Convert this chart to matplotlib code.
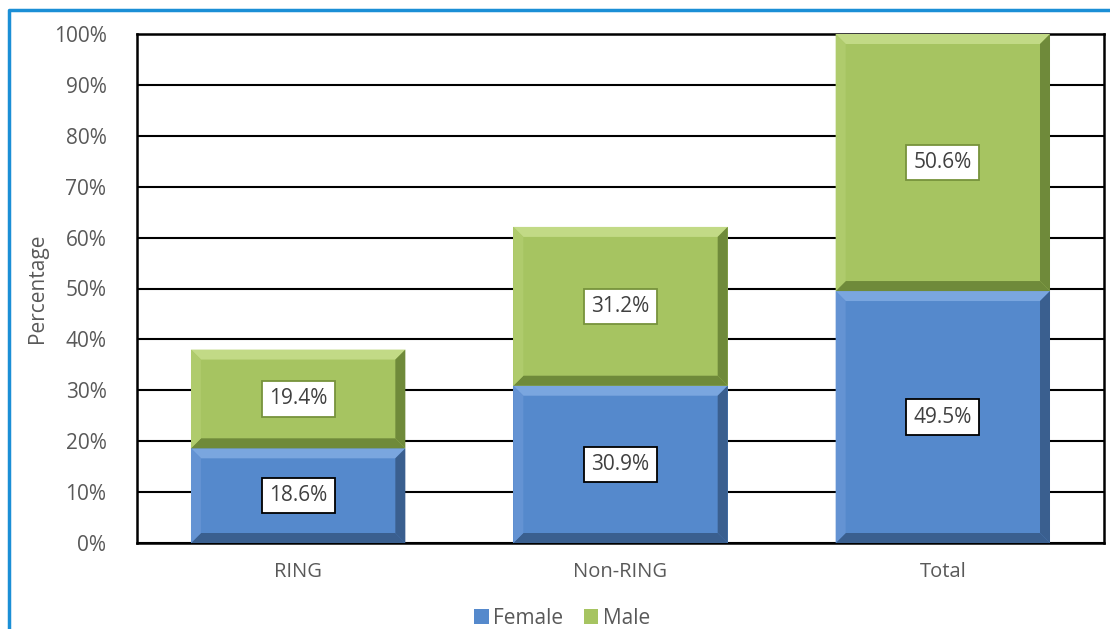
import matplotlib
matplotlib.use("Agg")
import matplotlib.pyplot as plt
from matplotlib.patches import Polygon
from matplotlib.lines import Line2D
import numpy as np

plt.rcParams['font.family'] = ['Open Sans', 'DejaVu Sans']

categories = ['RING', 'Non-RING', 'Total']
female = [18.6, 30.9, 49.5]
male = [19.4, 31.2, 50.6]
yticks = [0, 10, 20, 30, 40, 50, 60, 70, 80, 90, 100]

BLUE = '#5589cc'
BLUE_LIGHT = '#7aa6df'
BLUE_DARK = '#3a5f8f'
GREEN = '#a6c461'
GREEN_LIGHT = '#c2da86'
GREEN_DARK = '#6f8a3a'
TEXT = '#595959'

fig = plt.figure(figsize=(11.1, 6.29), dpi=100)
ax = fig.add_axes([137 / 1110, 1 - 543 / 629, (1104 - 137) / 1110, (543 - 34) / 629])

x = np.arange(len(categories))
width = 0.665
ax.set_xlim(-0.5, len(categories) - 0.5)
ax.set_ylim(0, 100)

ax.bar(x, female, width, color=BLUE, label='Female', zorder=3)
ax.bar(x, male, width, bottom=female, color=GREEN, label='Male', zorder=3)

# bevel size in data units (about 10 px)
bw = 10 / (ax.get_position().width * 1110) * 3
bh = 10 / (ax.get_position().height * 629) * 100


def bevel(x0, x1, y0, y1, light, dark, side_light):
    dx, dy = bw, bh
    top = [(x0, y1), (x1, y1), (x1 - dx, y1 - dy), (x0 + dx, y1 - dy)]
    right = [(x1, y1), (x1, y0), (x1 - dx, y0 + dy), (x1 - dx, y1 - dy)]
    bottom = [(x0, y0), (x1, y0), (x1 - dx, y0 + dy), (x0 + dx, y0 + dy)]
    left = [(x0, y0), (x0, y1), (x0 + dx, y1 - dy), (x0 + dx, y0 + dy)]
    for pts, c in [(top, light), (right, dark), (bottom, dark), (left, side_light)]:
        ax.add_patch(Polygon(pts, closed=True, color=c, lw=0, zorder=4))


for i in range(len(categories)):
    x0, x1 = x[i] - width / 2, x[i] + width / 2
    bevel(x0, x1, 0, female[i], BLUE_LIGHT, BLUE_DARK, '#6493d3')
    top = min(female[i] + male[i], 100)
    bevel(x0, x1, female[i], top, GREEN_LIGHT, GREEN_DARK, '#afcb6c')
    ax.text(x[i], female[i] / 2, f'{female[i]:.1f}%', ha='center', va='center',
            fontsize=15, color='#404040', zorder=6,
            bbox=dict(boxstyle='square,pad=0.35', fc='white', ec='black', lw=1.3))
    ax.text(x[i], female[i] + (top - female[i]) / 2, f'{male[i]:.1f}%', ha='center',
            va='center', fontsize=15, color='#404040', zorder=6,
            bbox=dict(boxstyle='square,pad=0.35', fc='white', ec='#77933c', lw=1.3))

ax.set_yticks(yticks)
ax.set_yticklabels([f'{t}%' for t in yticks], fontsize=15, color=TEXT)
ax.set_xticks(x)
ax.set_xticklabels(categories, fontsize=14.5, color=TEXT)
ax.tick_params(axis='both', length=0)
ax.tick_params(axis='y', pad=22)
ax.tick_params(axis='x', pad=14)
ax.grid(axis='y', color='black', lw=1.5, zorder=1)
for s in ax.spines.values():
    s.set_color('black')
    s.set_linewidth(1.8)
ax.set_ylabel('Percentage', fontsize=15, color=TEXT, labelpad=4)

fig.legend(loc='center', bbox_to_anchor=(562 / 1110, 1 - 618 / 629), ncol=2, frameon=False,
           fontsize=15, handlelength=0.7, handleheight=0.7, handletextpad=0.2,
           columnspacing=1.0, labelcolor=TEXT)

# blue frame around the chart
fig.add_artist(Line2D([9 / 1110, 9 / 1110, 1], [0, 1 - 10 / 629, 1 - 10 / 629],
                      transform=fig.transFigure, color='#1b8fd6', lw=2.5))

fig.savefig('out.png', dpi=100)
